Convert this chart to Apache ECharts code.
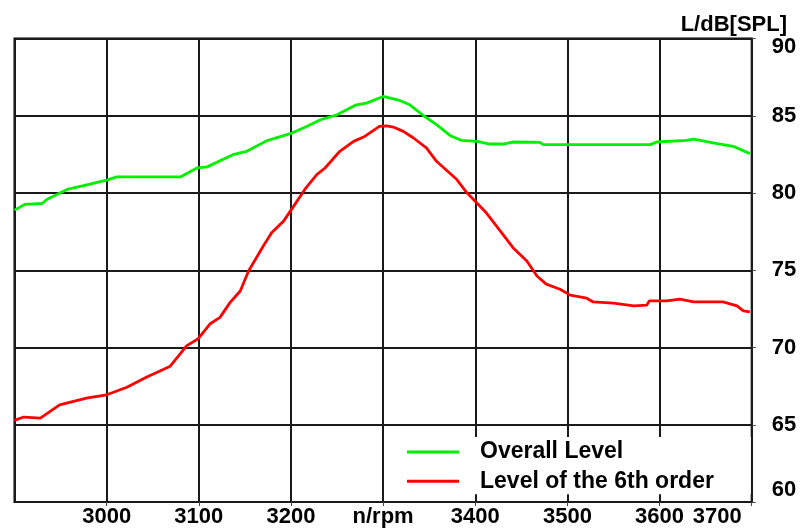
<!DOCTYPE html>
<html>
<head>
<meta charset="utf-8">
<script src="https://cdn.jsdelivr.net/npm/echarts@6/dist/echarts.min.js"></script>
<style>
html,body{margin:0;padding:0;background:#fff;}
#chart{width:810px;height:528px;}
</style>
</head>
<body>
<div id="chart"></div>
<script>
// Overall level (green)
var rpmOverall = [2900, 2911, 2930, 2935, 2957, 2975, 3000, 3011, 3080, 3098, 3109, 3137, 3152, 3174, 3201, 3217, 3232, 3250, 3271, 3282, 3300, 3318, 3329, 3344, 3358, 3373, 3385, 3402, 3416, 3430, 3441, 3470, 3474, 3590, 3597, 3629, 3637, 3658, 3680, 3698];
var levelOverall = [78.89, 79.26, 79.32, 79.58, 80.23, 80.48, 80.83, 81.04, 81.04, 81.62, 81.69, 82.48, 82.70, 83.39, 83.88, 84.31, 84.74, 85.06, 85.71, 85.82, 86.25, 85.99, 85.71, 85.0, 84.42, 83.71, 83.41, 83.34, 83.17, 83.17, 83.3, 83.28, 83.13, 83.13, 83.30, 83.41, 83.49, 83.24, 83.02, 82.55];
// Level of the 6th order (red)
var rpmOrder6 = [2900, 2910, 2928, 2949, 2978, 3000, 3022, 3043, 3069, 3087, 3099, 3112, 3123, 3134, 3145, 3154, 3170, 3179, 3192, 3203, 3215, 3228, 3237, 3253, 3268, 3280, 3296, 3304, 3311, 3322, 3333, 3347, 3358, 3380, 3391, 3412, 3430, 3441, 3456, 3467, 3477, 3492, 3503, 3521, 3528, 3550, 3572, 3586, 3589, 3608, 3622, 3637, 3669, 3684, 3691, 3698];
var levelOrder6 = [65.28, 65.5, 65.43, 66.29, 66.72, 66.94, 67.43, 68.08, 68.79, 70.12, 70.55, 71.52, 71.95, 72.92, 73.66, 74.95, 76.57, 77.43, 78.18, 79.15, 80.23, 81.19, 81.62, 82.70, 83.34, 83.66, 84.31, 84.35, 84.27, 83.99, 83.56, 82.92, 82.05, 80.87, 80.01, 78.72, 77.32, 76.46, 75.6, 74.63, 74.1, 73.77, 73.39, 73.19, 72.95, 72.87, 72.70, 72.74, 73.02, 73.02, 73.13, 72.95, 72.95, 72.7, 72.37, 72.31];

var seriesNames = ['Overall Level', 'Level of the 6th order'];
var xTickLabels = ['3000', '3100', '3200', 'n/rpm', '3400', '3500', '3600', '3700'];
var yTickLabels = ['60', '65', '70', '75', '80', '85', '90'];
var yTitle = 'L/dB[SPL]';

function zip(a, b) { return a.map(function (v, i) { return [v, b[i]]; }); }

var FONT = "'Liberation Sans', Arial, sans-serif";
var chart = echarts.init(document.getElementById('chart'), null, {renderer: 'canvas'});
chart.setOption({
  animation: false,
  backgroundColor: '#fff',
  title: {
    text: yTitle, right: 23, top: 14, padding: 0,
    textStyle: {fontFamily: FONT, fontWeight: 'bold', fontSize: 22, color: '#000'}
  },
  grid: {
    left: 14.5, right: 58.3, top: 38.5, bottom: 26,
    show: true, borderColor: '#000', borderWidth: 2, backgroundColor: '#fff'
  },
  legend: {
    orient: 'vertical', left: 386, top: 437,
    padding: [2, 37, 0, 21],
    backgroundColor: '#fff',
    itemGap: 3.3, itemWidth: 52, itemHeight: 3, icon: 'rect',
    data: seriesNames,
    textStyle: {fontFamily: FONT, fontWeight: 'bold', fontSize: 23, color: '#000', lineHeight: 26, padding: [0, 0, 0, 16]}
  },
  xAxis: {
    type: 'value', min: 2900, max: 3700, interval: 100,
    axisLine: {show: false},
    axisTick: {show: true, length: 4, lineStyle: {color: '#444', width: 1}},
    splitLine: {show: true, lineStyle: {color: '#1a1a1a', width: 2}},
    axisLabel: {
      showMinLabel: false, margin: 4, alignMaxLabel: 'right',
      fontFamily: FONT, fontWeight: 'bold', fontSize: 22, color: '#000',
      formatter: function (v) {
        var idx = Math.round((v - 3000) / 100);
        if (idx < 0) return '';
        var t = xTickLabels[idx];
        if (idx === xTickLabels.length - 1) return '{r|' + t + '}';
        return t;
      },
      rich: {r: {fontFamily: FONT, fontWeight: 'bold', fontSize: 22, color: '#000', padding: [0, 10, 0, 0]}}
    }
  },
  yAxis: {
    type: 'value', position: 'right', min: 60, max: 90, interval: 5,
    axisLine: {show: false},
    axisTick: {show: true, length: 4, lineStyle: {color: '#444', width: 1}},
    splitLine: {show: true, lineStyle: {color: '#1a1a1a', width: 2}},
    axisLabel: {
      margin: 20, fontFamily: FONT, fontWeight: 'bold', fontSize: 22, color: '#000',
      formatter: function (v) {
        var t = yTickLabels[Math.round((v - 60) / 5)];
        if (v === 90) return '{t|' + t + '}';
        if (v === 60) return '{b|' + t + '}';
        return t;
      },
      rich: {
        t: {fontFamily: FONT, fontWeight: 'bold', fontSize: 22, color: '#000', padding: [16, 0, 0, 0]},
        b: {fontFamily: FONT, fontWeight: 'bold', fontSize: 22, color: '#000', padding: [0, 0, 25, 0]}
      }
    }
  },
  series: [
    {
      name: seriesNames[0], type: 'line', showSymbol: false, symbol: 'none',
      data: zip(rpmOverall, levelOverall),
      lineStyle: {color: '#00f000', width: 2.8},
      itemStyle: {color: '#00f000'}, z: 3
    },
    {
      name: seriesNames[1], type: 'line', showSymbol: false, symbol: 'none',
      data: zip(rpmOrder6, levelOrder6),
      lineStyle: {color: '#ff0000', width: 2.8},
      itemStyle: {color: '#ff0000'}, z: 3
    }
  ]
});
</script>
</body>
</html>
